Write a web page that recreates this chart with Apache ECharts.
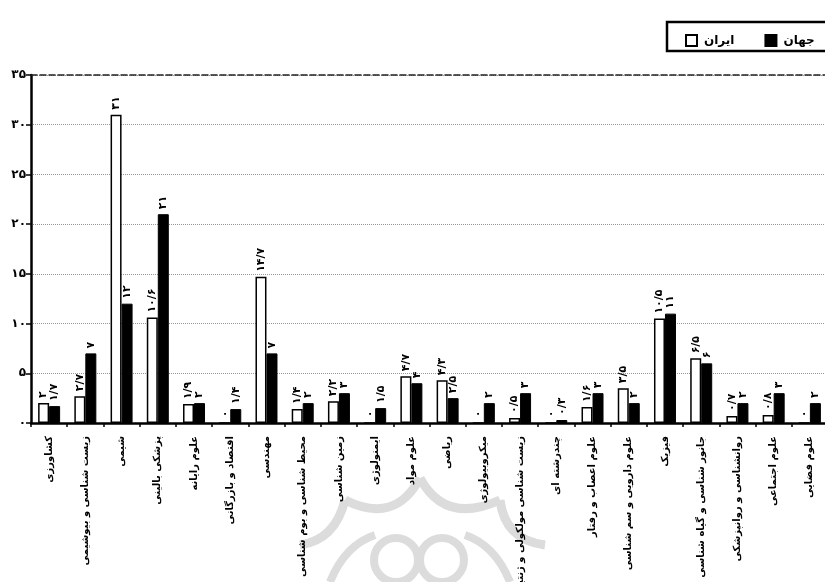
<!DOCTYPE html>
<html>
<head>
<meta charset="utf-8">
<script src="https://cdn.jsdelivr.net/npm/echarts@6/dist/echarts.min.js"></script>
<style>
html,body{margin:0;padding:0;background:#fff;}
#chart{width:825px;height:582px;}
</style>
</head>
<body>
<div id="chart"></div>
<script>
// ---- data ----
const categories = [
  'کشاورزی',
  'زیست شناسی و بیوشیمی',
  'شیمی',
  'پزشکی بالینی',
  'علوم رایانه',
  'اقتصاد و بازرگانی',
  'مهندسی',
  'محیط شناسی و بوم شناسی',
  'زمین شناسی',
  'ایمنولوژی',
  'علوم مواد',
  'ریاضی',
  'میکروبیولوژی',
  'زیست شناسی مولکولی و ژنتیک',
  'چندرشته ای',
  'علوم اعصاب و رفتار',
  'علوم دارویی و سم شناسی',
  'فیزیک',
  'جانور شناسی و گیاه شناسی',
  'روانشناسی و روانپزشکی',
  'علوم اجتماعی',
  'علوم فضایی'
];
const iranValues  = [2, 2.7, 31, 10.6, 1.9, 0, 14.7, 1.4, 2.2, 0, 4.7, 4.3, 0, 0.5, 0, 1.6, 3.5, 10.5, 6.5, 0.7, 0.8, 0];
const worldValues = [1.7, 7, 12, 21, 2, 1.4, 7, 2, 3, 1.5, 4, 2.5, 2, 3, 0.3, 3, 2, 11, 6, 2, 3, 2];
const seriesNames = ['ایران', 'جهان'];
const yTicks = [0, 5, 10, 15, 20, 25, 30, 35];

// ---- helpers ----
const fa = '۰۱۲۳۴۵۶۷۸۹';
function toFa(v) {
  return String(v).replace('.', '/').replace(/[0-9]/g, d => fa[+d]);
}
const FONT = 'DejaVu Sans';

const chart = echarts.init(document.getElementById('chart'));

const labelCommon = {
  show: true,
  position: 'top',
  rotate: 90,
  align: 'left',
  verticalAlign: 'middle',
  distance: 5,
  fontFamily: FONT,
  fontSize: 11,
  fontWeight: 'bold',
  color: '#000',
  formatter: p => toFa(p.value)
};

const option = {
  backgroundColor: '#fff',
  animation: false,
  textStyle: { fontFamily: FONT },
  legend: {
    data: seriesNames,
    left: 680,
    top: 29,
    icon: 'rect',
    itemWidth: 11,
    itemHeight: 11,
    itemGap: 30,
    textStyle: { fontFamily: FONT, fontSize: 12, fontWeight: 'bold', color: '#000', padding: [0, 0, 0, 2] },
    selectedMode: false
  },
  grid: {
    left: 31, right: -3, top: 75, bottom: 159,
    containLabel: false,
    outerBoundsMode: 'none'
  },
  xAxis: [{
    type: 'category',
    data: categories,
    position: 'bottom',
    axisLine: { lineStyle: { color: '#000', width: 2.5 } },
    axisTick: { show: true, length: 4, lineStyle: { color: '#000', width: 1.5 } },
    axisLabel: {
      rotate: 90,
      interval: 0,
      margin: 13,
      fontFamily: FONT,
      fontSize: 10,
      fontWeight: 'bold',
      color: '#000'
    }
  }, {
    type: 'category',
    data: categories,
    position: 'top',
    axisLine: { lineStyle: { color: '#222', width: 1.5, type: 'dashed' } },
    axisTick: { show: false },
    axisLabel: { show: false }
  }],
  yAxis: {
    type: 'value',
    min: 0,
    max: 35,
    interval: 5,
    axisLine: { show: true, lineStyle: { color: '#000', width: 2.5 } },
    axisTick: { show: true, length: 5, lineStyle: { color: '#000', width: 1.5 } },
    axisLabel: {
      margin: 5,
      fontFamily: FONT,
      fontSize: 12,
      fontWeight: 'bold',
      color: '#000',
      formatter: v => toFa(v)
    },
    splitLine: { show: true, lineStyle: { color: '#999', type: 'dotted', width: 1 } }
  },
  series: [{
    name: seriesNames[0],
    type: 'bar',
    data: iranValues,
    barWidth: 11,
    barGap: '0%',
    itemStyle: { color: '#fff', borderColor: '#000', borderWidth: 1.5 },
    label: labelCommon,
    z: 3
  }, {
    name: seriesNames[1],
    type: 'bar',
    data: worldValues,
    barWidth: 11,
    barGap: '0%',
    itemStyle: { color: '#000', borderColor: '#000', borderWidth: 1 },
    label: labelCommon,
    z: 3
  }],
  graphic: [
    // legend frame
    { type: 'rect', shape: { x: 667, y: 22, width: 170, height: 29 },
      style: { fill: null, stroke: '#000', lineWidth: 2.5 }, z: 10, silent: true },
    // faint watermark
    { type: 'group', z: -10, silent: true, children: [
      { type: 'bezierCurve', shape: { x1: 300, y1: 545, x2: 345, y2: 500, cpx1: 335, cpy1: 540 },
        style: { stroke: '#dcdcdc', lineWidth: 9, fill: null } },
      { type: 'bezierCurve', shape: { x1: 345, y1: 500, x2: 420, y2: 478, cpx1: 395, cpy1: 525 },
        style: { stroke: '#dcdcdc', lineWidth: 9, fill: null } },
      { type: 'bezierCurve', shape: { x1: 420, y1: 478, x2: 500, y2: 500, cpx1: 445, cpy1: 525 },
        style: { stroke: '#dcdcdc', lineWidth: 9, fill: null } },
      { type: 'bezierCurve', shape: { x1: 500, y1: 500, x2: 545, y2: 545, cpx1: 505, cpy1: 540 },
        style: { stroke: '#dcdcdc', lineWidth: 9, fill: null } },
      { type: 'circle', shape: { cx: 396, cy: 560, r: 22 },
        style: { stroke: '#dcdcdc', lineWidth: 8, fill: null } },
      { type: 'circle', shape: { cx: 442, cy: 560, r: 22 },
        style: { stroke: '#dcdcdc', lineWidth: 8, fill: null } },
      { type: 'bezierCurve', shape: { x1: 330, y1: 582, x2: 375, y2: 535, cpx1: 345, cpy1: 545 },
        style: { stroke: '#dcdcdc', lineWidth: 8, fill: null } },
      { type: 'bezierCurve', shape: { x1: 510, y1: 582, x2: 465, y2: 535, cpx1: 495, cpy1: 545 },
        style: { stroke: '#dcdcdc', lineWidth: 8, fill: null } }
    ]}
  ]
};

chart.setOption(option);
</script>
</body>
</html>
